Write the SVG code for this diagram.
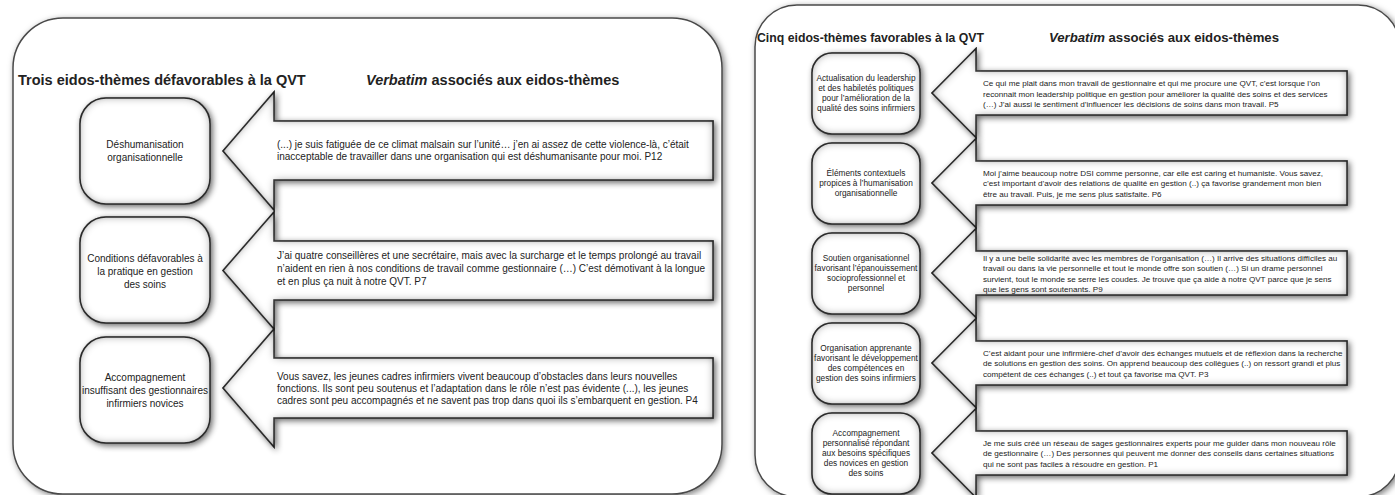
<svg xmlns="http://www.w3.org/2000/svg" width="1395" height="495" viewBox="0 0 1395 495">
<defs>
<style>
.frame{fill:#fff;stroke:#4a4a4a;stroke-width:1.5;filter:url(#drop)}
.box{fill:#fff;stroke:#3a3a3a;stroke-width:1.5;filter:url(#bevel)}
.arrow{fill:#fff;stroke:#3a3a3a;stroke-width:1.5;filter:url(#bevel)}
.t{font-family:"Liberation Sans",Arial,sans-serif;fill:#222}
.title{font-size:14.5px;font-weight:bold}
.title2{font-size:12.5px;font-weight:bold}
.nl{font-size:10px;text-anchor:middle}
.al{font-size:10px}
.nr{font-size:8.3px;text-anchor:middle}
.ar{font-size:8.1px}
</style>
<filter id="drop" x="-5%" y="-5%" width="110%" height="110%">
<feDropShadow dx="2" dy="2" stdDeviation="3" flood-color="#000" flood-opacity="0.5"/>
</filter>
<filter id="bevel" x="-20%" y="-20%" width="140%" height="140%">
<feGaussianBlur in="SourceAlpha" stdDeviation="3" result="b"/>
<feOffset in="b" dx="2" dy="2" result="ob"/>
<feComponentTransfer in="ob" result="os"><feFuncA type="linear" slope="0.6"/></feComponentTransfer>
<feFlood flood-color="#000" flood-opacity="0.85"/>
<feComposite in2="SourceAlpha" operator="out"/>
<feGaussianBlur stdDeviation="4"/>
<feComposite in2="SourceAlpha" operator="in" result="inner"/>
<feMerge><feMergeNode in="os"/><feMergeNode in="SourceGraphic"/><feMergeNode in="inner"/></feMerge>
</filter>
</defs>
<rect width="1395" height="495" fill="#fff"/>

<g id="panel-left">
<rect class="frame" x="13" y="18" width="709" height="476" rx="50"/>
<text class="t title" x="18" y="85">Trois eidos-thèmes défavorables à la QVT</text>
<text class="t title" x="366" y="85"><tspan font-style="italic">Verbatim</tspan> associés aux eidos-thèmes</text>
</g>
<g id="panel-right">
<rect class="frame" x="755" y="5" width="645" height="492" rx="42"/>
<text class="t title2" x="757" y="42" textLength="227" lengthAdjust="spacingAndGlyphs">Cinq eidos-thèmes favorables à la QVT</text>
<text class="t title2" x="1049" y="42" textLength="230" lengthAdjust="spacingAndGlyphs"><tspan font-style="italic">Verbatim</tspan> associés aux eidos-thèmes</text>
</g>

<g id="connectors">
<g id="arrow-L1">
<path class="arrow" d="M713,121 L274,121 L274,92 L223,151 L274,210 L274,180 L713,180 Z"/>
<text class="t al" x="277" y="148">(...) je suis fatiguée de ce climat malsain sur l’unité… j’en ai assez de cette violence-là, c’était</text>
<text class="t al" x="277" y="160">inacceptable de travailler dans une organisation qui est déshumanisante pour moi. P12</text>
</g>
<g id="arrow-L2">
<path class="arrow" d="M713,241 L274,241 L274,212 L223,270.5 L274,329 L274,300 L713,300 Z"/>
<text class="t al" x="277" y="259">J’ai quatre conseillères et une secrétaire, mais avec la surcharge et le temps prolongé au travail</text>
<text class="t al" x="277" y="272">n’aident en rien à nos conditions de travail comme gestionnaire (…) C’est démotivant à la longue</text>
<text class="t al" x="277" y="284.5">et en plus ça nuit à notre QVT. P7</text>
</g>
<g id="arrow-L3">
<path class="arrow" d="M713,358 L274,358 L274,329 L223,388 L274,447 L274,418 L713,418 Z"/>
<text class="t al" x="277" y="380">Vous savez, les jeunes cadres infirmiers vivent beaucoup d’obstacles dans leurs nouvelles</text>
<text class="t al" x="277" y="392">fonctions. Ils sont peu soutenus et l’adaptation dans le rôle n’est pas évidente (...), les jeunes</text>
<text class="t al" x="277" y="404">cadres sont peu accompagnés et ne savent pas trop dans quoi ils s’embarquent en gestion. P4</text>
</g>

<g id="arrow-R1">
<path class="arrow" d="M1347,71 L976,71 L976,48.5 L932,93 L976,137.5 L976,115 L1347,115 Z"/>
<text class="t ar" x="983" y="86">Ce qui me plait dans mon travail de gestionnaire et qui me procure une QVT, c’est lorsque l’on</text>
<text class="t ar" x="983" y="96.5">reconnait mon leadership politique en gestion pour améliorer la qualité des soins et des services</text>
<text class="t ar" x="983" y="107">(…) J’ai aussi le sentiment d’influencer les décisions de soins dans mon travail. P5</text>
</g>
<g id="arrow-R2">
<path class="arrow" d="M1347,161 L976,161 L976,138.5 L932,183 L976,227.5 L976,205 L1347,205 Z"/>
<text class="t ar" x="983" y="175.5">Moi j’aime beaucoup notre DSI comme personne, car elle est caring et humaniste. Vous savez,</text>
<text class="t ar" x="983" y="186">c’est important d’avoir des relations de qualité en gestion (..) ça favorise grandement mon bien</text>
<text class="t ar" x="983" y="196.5">être au travail. Puis, je me sens plus satisfaite.  P6</text>
</g>
<g id="arrow-R3">
<path class="arrow" d="M1347,251 L976,251 L976,228.5 L932,273 L976,317.5 L976,295 L1347,295 Z"/>
<text class="t ar" x="983" y="260.5">Il y a une belle solidarité avec les membres de l’organisation (…) Il arrive des situations difficiles au</text>
<text class="t ar" x="983" y="271">travail ou dans la vie personnelle et tout le monde offre son soutien (…) Si un drame personnel</text>
<text class="t ar" x="983" y="281.5">survient, tout le monde se serre les coudes. Je trouve que ça aide à notre QVT parce que je sens</text>
<text class="t ar" x="983" y="292">que les gens sont soutenants.  P9</text>
</g>
<g id="arrow-R4">
<path class="arrow" d="M1347,341 L976,341 L976,318.5 L932,363 L976,407.5 L976,385 L1347,385 Z"/>
<text class="t ar" x="983" y="355.5">C’est aidant pour une infirmière-chef d’avoir des échanges mutuels et de réflexion dans la recherche</text>
<text class="t ar" x="983" y="366">de solutions en gestion des soins. On apprend beaucoup des collègues (..) on ressort grandi et plus</text>
<text class="t ar" x="983" y="376.5">compétent de ces échanges (..) et tout ça favorise ma QVT. P3</text>
</g>
<g id="arrow-R5">
<path class="arrow" d="M1347,431 L976,431 L976,408.5 L932,453 L976,497.5 L976,475 L1347,475 Z"/>
<text class="t ar" x="983" y="445.5">Je me suis créé un réseau de sages gestionnaires experts pour me guider dans mon nouveau rôle</text>
<text class="t ar" x="983" y="456">de gestionnaire (…) Des personnes qui peuvent me donner des conseils dans certaines situations</text>
<text class="t ar" x="983" y="466.5">qui ne sont pas faciles à résoudre en gestion. P1</text>
</g>
</g>

<g id="node-L1">
<rect class="box" x="80" y="98" width="130" height="106" rx="26"/>
<text class="t nl" x="145" y="147.5">Déshumanisation</text>
<text class="t nl" x="145" y="160.5">organisationnelle</text>
</g>
<g id="node-L2">
<rect class="box" x="80" y="217" width="130" height="106" rx="26"/>
<text class="t nl" x="145" y="261.5">Conditions défavorables à</text>
<text class="t nl" x="145" y="274.5">la pratique en gestion</text>
<text class="t nl" x="145" y="287.5">des soins</text>
</g>
<g id="node-L3">
<rect class="box" x="80" y="337" width="130" height="106" rx="26"/>
<text class="t nl" x="145" y="380.5">Accompagnement</text>
<text class="t nl" x="145" y="393.5">insuffisant des gestionnaires</text>
<text class="t nl" x="145" y="406.5">infirmiers novices</text>
</g>

<g id="node-R1">
<rect class="box" x="812" y="53" width="108" height="81" rx="20"/>
<text class="t nr" x="866" y="81">Actualisation du leadership</text>
<text class="t nr" x="866" y="91">et des habiletés politiques</text>
<text class="t nr" x="866" y="101">pour l’amélioration de la</text>
<text class="t nr" x="866" y="111">qualité des soins infirmiers</text>
</g>
<g id="node-R2">
<rect class="box" x="812" y="143" width="108" height="81" rx="20"/>
<text class="t nr" x="866" y="176">Éléments contextuels</text>
<text class="t nr" x="866" y="186">propices à l’humanisation</text>
<text class="t nr" x="866" y="196">organisationnelle</text>
</g>
<g id="node-R3">
<rect class="box" x="812" y="233" width="108" height="81" rx="20"/>
<text class="t nr" x="866" y="261">Soutien organisationnel</text>
<text class="t nr" x="866" y="271">favorisant l’épanouissement</text>
<text class="t nr" x="866" y="281">socioprofessionnel et</text>
<text class="t nr" x="866" y="291">personnel</text>
</g>
<g id="node-R4">
<rect class="box" x="812" y="323" width="108" height="81" rx="20"/>
<text class="t nr" x="866" y="351">Organisation apprenante</text>
<text class="t nr" x="866" y="361">favorisant le développement</text>
<text class="t nr" x="866" y="371">des compétences en</text>
<text class="t nr" x="866" y="381">gestion des soins infirmiers</text>
</g>
<g id="node-R5">
<rect class="box" x="812" y="413" width="108" height="81" rx="20"/>
<text class="t nr" x="866" y="436">Accompagnement</text>
<text class="t nr" x="866" y="446">personnalisé répondant</text>
<text class="t nr" x="866" y="456">aux besoins spécifiques</text>
<text class="t nr" x="866" y="466">des novices en gestion</text>
<text class="t nr" x="866" y="476">des soins</text>
</g>
</svg>
